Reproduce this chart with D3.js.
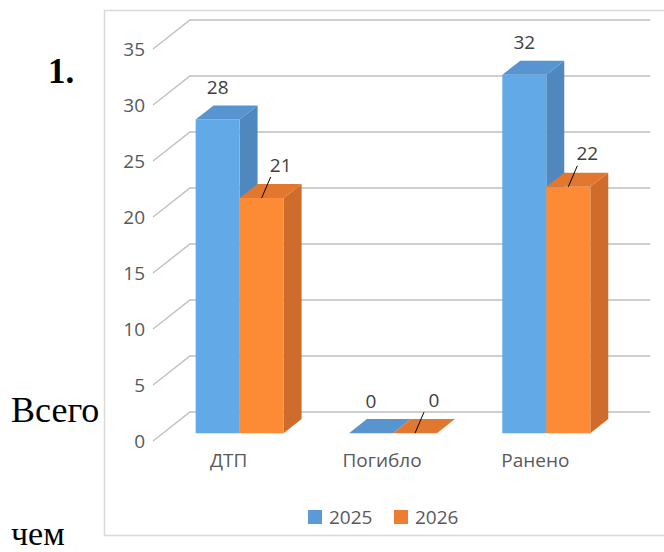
<!DOCTYPE html>
<html>
<head>
<meta charset="utf-8">
<script src="https://d3js.org/d3.v7.min.js"></script>
<style>
  body { margin: 0; background: #fff; }
  svg { display: block; }
</style>
</head>
<body>
<div id="chart"></div>
<script>
const categories = ["ДТП", "Погибло", "Ранено"];
const seriesNames = ["2025", "2026"];
const values2025 = [28, 0, 32];
const values2026 = [21, 0, 22];
const yTicks = [0, 5, 10, 15, 20, 25, 30, 35];

const width = 664, height = 552;
const depthX = 37, depthY = 29;   // oblique offset of the back wall
const barT0 = 0.27, barT1 = 0.755; // bar depth inside the box

const faces = {
    "2025": {front: "#61a9e7", side: "#4f87bf", top: "#5794d0", legend: "#5b9bd5"},
    "2026": {front: "#fd8a34", side: "#cf6c2c", top: "#e2782f", legend: "#ed7d31"}
};

let svg = d3.select("#chart")
    .append("svg")
    .attr("width", width)
    .attr("height", height)
    .style("font-family", "'Open Sans', sans-serif");

// text from the surrounding document
svg.append("text").attr("x", 48).attr("y", 83)
    .style("font-family", "'Liberation Serif', serif")
    .style("font-weight", "bold").style("font-size", "35px")
    .text("1.");
svg.append("text").attr("x", 11).attr("y", 422)
    .style("font-family", "'Liberation Serif', serif").style("font-size", "36px")
    .text("Всего");
svg.append("text").attr("x", 11).attr("y", 545)
    .style("font-family", "'Liberation Serif', serif").style("font-size", "34px")
    .text("чем");

// chart frame
svg.append("rect")
    .attr("x", 104.5).attr("y", 10.5)
    .attr("width", 600).attr("height", 525)
    .attr("fill", "#fff")
    .attr("stroke", "#d9d9d9")
    .attr("stroke-width", 1.5);

let y = d3.scaleLinear().domain([0, 35]).range([441, 49]);
let x0 = d3.scaleBand().domain(categories).range([153, 613]);
const groupW = 88;
let x1 = d3.scaleBand().domain(seriesNames).range([0, groupW]);

function proj(px, v, t) {
    return [px + depthX * t, y(v) - depthY * t];
}

// gridlines: side wall diagonal + back wall horizontal
let grid = svg.append("g");
yTicks.forEach(v => {
    let a = proj(x0.range()[0], v, 0);
    let b = proj(x0.range()[0], v, 1);
    let c = proj(x0.range()[1], v, 1);
    grid.append("polyline")
        .attr("points", [a, b, c].map(p => p.join(",")).join(" "))
        .attr("fill", "none")
        .attr("stroke", "#bfbfbf")
        .attr("stroke-width", 1.4);
});

// y tick labels
svg.append("g").selectAll("text")
    .data(yTicks)
    .enter()
    .append("text")
    .attr("x", 145)
    .attr("y", d => y(d))
    .attr("dy", "0.35em")
    .attr("text-anchor", "end")
    .attr("fill", "#595959")
    .style("font-size", "19px")
    .text(d => d);

// category labels
svg.append("g").selectAll("text")
    .data(categories)
    .enter()
    .append("text")
    .attr("x", d => x0(d) + x0.bandwidth() / 2 - 1)
    .attr("y", 467)
    .attr("text-anchor", "middle")
    .attr("fill", "#595959")
    .style("font-size", "19px")
    .text(d => d);

let data = [];
categories.forEach((c, i) => {
    data.push({cat: c, s: "2025", v: values2025[i]});
    data.push({cat: c, s: "2026", v: values2026[i]});
});

let bars = svg.append("g");
data.forEach(d => {
    let left = x0(d.cat) + (x0.bandwidth() - groupW) / 2 + x1(d.s);
    let right = left + x1.bandwidth();
    let f = faces[d.s];
    let pts = arr => arr.map(p => p.join(",")).join(" ");
    let g = bars.append("g");
    if (d.v > 0) {
        g.append("polygon")
            .attr("points", pts([proj(right, 0, barT0), proj(right, 0, barT1),
                proj(right, d.v, barT1), proj(right, d.v, barT0)]))
            .attr("fill", f.side);
        g.append("polygon")
            .attr("points", pts([proj(left, 0, barT0), proj(right, 0, barT0),
                proj(right, d.v, barT0), proj(left, d.v, barT0)]))
            .attr("fill", f.front);
    }
    g.append("polygon")
        .attr("points", pts([proj(left, d.v, barT0), proj(right, d.v, barT0),
            proj(right, d.v, barT1), proj(left, d.v, barT1)]))
        .attr("fill", f.top);
});

// value labels
let labels = svg.append("g");
data.forEach(d => {
    let left = x0(d.cat) + (x0.bandwidth() - groupW) / 2 + x1(d.s);
    let p = proj(left + x1.bandwidth() / 2, d.v, barT0);
    if (d.s === "2025") {
        labels.append("text")
            .attr("x", p[0]).attr("y", p[1] - 32)
            .attr("dy", "0.35em")
            .attr("text-anchor", "middle")
            .attr("fill", "#404040")
            .style("font-size", "19px")
            .text(d.v);
    } else {
        labels.append("line")
            .attr("x1", p[0]).attr("y1", p[1])
            .attr("x2", p[0] + 9).attr("y2", p[1] - 21)
            .attr("stroke", "#000")
            .attr("stroke-width", 1);
        labels.append("text")
            .attr("x", p[0] + 19).attr("y", p[1] - 33)
            .attr("dy", "0.35em")
            .attr("text-anchor", "middle")
            .attr("fill", "#404040")
            .style("font-size", "19px")
            .text(d.v);
    }
});

// legend
let legendX = [308, 394];
let legend = svg.append("g").selectAll("g")
    .data(seriesNames)
    .enter()
    .append("g")
    .attr("transform", (d, i) => "translate(" + legendX[i] + ",510)");
legend.append("rect")
    .attr("width", 14).attr("height", 14)
    .attr("fill", d => faces[d].legend);
legend.append("text")
    .attr("x", 21).attr("y", 7)
    .attr("dy", "0.35em")
    .attr("fill", "#595959")
    .style("font-size", "19px")
    .text(d => d);
</script>
</body>
</html>
